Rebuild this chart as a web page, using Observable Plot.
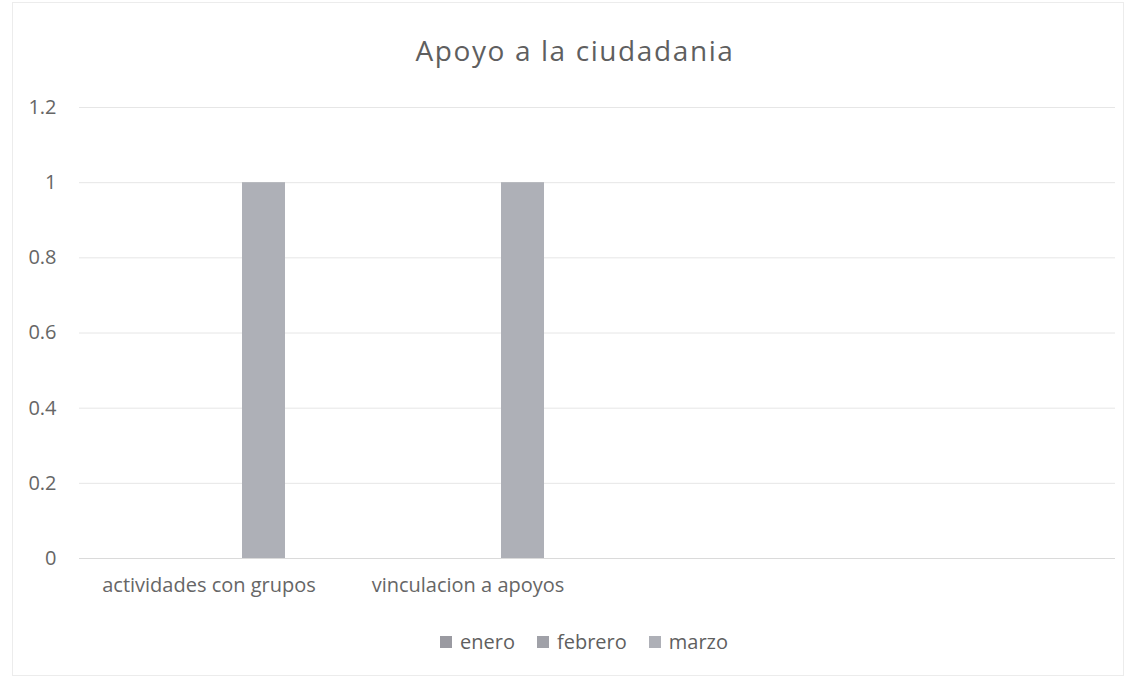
<!DOCTYPE html>
<html>
<head>
<meta charset="utf-8">
<script src="https://cdn.jsdelivr.net/npm/d3@7"></script>
<script src="https://cdn.jsdelivr.net/npm/@observablehq/plot@0.6"></script>
<style>
  html, body { margin: 0; padding: 0; background: #fff; }
  #wrap { position: relative; width: 1126px; height: 680px; overflow: hidden; font-family: "Open Sans", sans-serif; color: #5f5f5f; }
  #frame { position: absolute; left: 12px; top: 2px; width: 1112px; height: 674px; border: 1px solid #ececec; box-sizing: border-box; }
  #title { position: absolute; left: 0; top: 31px; width: 1150px; text-align: center; font-size: 28px; letter-spacing: 1.6px; color: #5f5f5f; line-height: 38px; }
  #chart { position: absolute; left: 0; top: 80px; }
  #legend { position: absolute; left: 440px; top: 629px; display: flex; align-items: center; font-size: 20px; line-height: 26px; color: #5f5f5f; }
  .item { display: flex; align-items: center; margin-right: 22px; }
  .sw { width: 12px; height: 12px; margin-right: 8px; }
</style>
</head>
<body>
<div id="wrap">
  <div id="frame"></div>
  <div id="title"></div>
  <div id="chart"></div>
  <div id="legend"></div>
</div>
<script>
const title = "Apoyo a la ciudadania";
const categories = ["actividades con grupos", "vinculacion a apoyos", "", " "];
const series = ["enero", "febrero", "marzo"];
const enero = [0, 0, 0, 0];
const febrero = [0, 0, 0, 0];
const marzo = [1, 1, 0, 0];
const colors = ["#9a9aa1", "#a0a1a8", "#aeb0b7"];
const yTicks = [0, 0.2, 0.4, 0.6, 0.8, 1, 1.2];
const yTickLabels = ["0", "0.2", "0.4", "0.6", "0.8", "1", "1.2"];

const values = {enero, febrero, marzo};
const data = [];
categories.forEach((c, i) => series.forEach(s => data.push({category: c, series: s, value: values[s][i]})));

document.getElementById("title").textContent = title;

const chart = Plot.plot({
  width: 1126,
  height: 530,
  marginLeft: 79,
  marginRight: 11,
  marginTop: 27,
  marginBottom: 52,
  style: {fontFamily: "'Open Sans', sans-serif", color: "#666", background: "transparent"},
  fx: {domain: categories, padding: 0, axis: "bottom", tickSize: 0, tickPadding: 19, label: null},
  x: {domain: series, axis: null, paddingInner: 0.21, paddingOuter: 0.92},
  y: {domain: [0, 1.2], ticks: yTicks, tickSize: 0, tickPadding: 23, label: null,
      tickFormat: d => yTickLabels[yTicks.indexOf(Math.round(d * 10) / 10)]},
  color: {domain: series, range: colors},
  marks: [
    Plot.ruleY(yTicks.filter(d => d > 0), {stroke: "#e6e6e6", strokeWidth: 1}),
    Plot.ruleY([0], {stroke: "#dadada", strokeWidth: 1}),
    Plot.barY(data, {fx: "category", x: "series", y: "value", fill: "series"})
  ]
});
chart.querySelectorAll("text").forEach(t => t.style.fontSize = "20px");
document.getElementById("chart").appendChild(chart);

const legend = document.getElementById("legend");
series.forEach((s, i) => {
  const item = document.createElement("div");
  item.className = "item";
  const sw = document.createElement("div");
  sw.className = "sw";
  sw.style.background = colors[i];
  const lab = document.createElement("span");
  lab.textContent = s;
  item.appendChild(sw); item.appendChild(lab);
  legend.appendChild(item);
});
</script>
</body>
</html>
